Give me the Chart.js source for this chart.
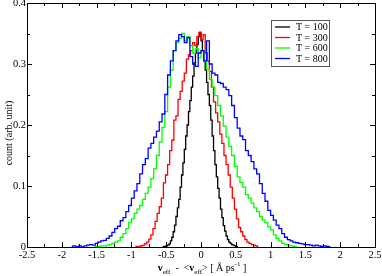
<!DOCTYPE html>
<html>
<head>
<meta charset="utf-8">
<script src="https://cdn.jsdelivr.net/npm/chart.js@4.4.0/dist/chart.umd.min.js"></script>
<style>
  html, body { margin: 0; padding: 0; background: #fff; }
  #wrap { width: 382px; height: 276px; }
</style>
</head>
<body>
<div id="wrap"><canvas id="histChart" width="382" height="276"></canvas></div>
<script>
// histogram bins: first bin centre + bin width, then the counts
var t100Start = -0.55, t100Width = 0.02;
var t100Counts = [0.000,0.001,0.001,0.002,0.003,0.005,0.010,0.016,0.025,0.036,0.050,0.064,0.078,0.098,0.118,0.138,0.160,0.182,0.200,0.222,0.240,0.262,0.280,0.302,0.318,0.332,0.345,0.352,0.338,0.322,0.305,0.290,0.270,0.250,0.232,0.208,0.182,0.158,0.135,0.115,0.096,0.080,0.062,0.048,0.035,0.026,0.018,0.012,0.008,0.006,0.004,0.003,0.002,0.001,0.000];

var t300Start = -0.945, t300Width = 0.03;
var t300Counts = [0.000,0.001,0.001,0.002,0.003,0.005,0.008,0.013,0.020,0.030,0.042,0.055,0.066,0.080,0.105,0.118,0.135,0.158,0.175,0.208,0.215,0.242,0.255,0.272,0.285,0.308,0.315,0.322,0.335,0.330,0.345,0.352,0.340,0.348,0.318,0.305,0.288,0.262,0.238,0.220,0.205,0.185,0.170,0.150,0.135,0.118,0.098,0.080,0.062,0.046,0.032,0.025,0.018,0.012,0.008,0.006,0.004,0.003,0.002,0.000];

var t600Start = -1.54, t600Width = 0.04;
var t600Counts = [0.000,0.001,0.001,0.002,0.002,0.003,0.004,0.006,0.008,0.010,0.016,0.022,0.030,0.040,0.046,0.055,0.062,0.068,0.078,0.088,0.098,0.112,0.128,0.150,0.172,0.196,0.222,0.262,0.290,0.322,0.335,0.342,0.350,0.338,0.345,0.330,0.318,0.325,0.310,0.322,0.305,0.292,0.275,0.262,0.248,0.232,0.215,0.198,0.180,0.165,0.150,0.132,0.115,0.106,0.098,0.086,0.080,0.072,0.064,0.058,0.050,0.044,0.040,0.033,0.028,0.020,0.014,0.010,0.006,0.004,0.003,0.002,0.001,0.000];

var t800Start = -1.86, t800Width = 0.04;
var t800Counts = [0.000,0.002,0.000,0.002,0.000,0.002,0.003,0.004,0.003,0.006,0.008,0.010,0.011,0.014,0.018,0.024,0.030,0.034,0.043,0.048,0.058,0.068,0.080,0.092,0.104,0.120,0.135,0.145,0.162,0.170,0.180,0.190,0.205,0.218,0.250,0.282,0.305,0.322,0.338,0.348,0.345,0.335,0.343,0.312,0.300,0.296,0.318,0.322,0.305,0.338,0.300,0.285,0.282,0.270,0.268,0.262,0.258,0.248,0.232,0.212,0.195,0.182,0.176,0.158,0.150,0.140,0.128,0.120,0.104,0.088,0.075,0.060,0.052,0.044,0.036,0.030,0.022,0.016,0.012,0.010,0.008,0.007,0.006,0.005,0.004,0.004,0.003,0.002,0.003,0.002,0.001,0.002,0.001,0.000];

var seriesNames = ['T = 100', 'T = 300', 'T = 600', 'T = 800'];
var seriesColors = ['#000000', '#ff0000', '#00ff00', '#0000ff'];
var xTicks = [-2.5, -2, -1.5, -1, -0.5, 0, 0.5, 1, 1.5, 2, 2.5];
var yTicks = [0, 0.1, 0.2, 0.3, 0.4];

function toPoints(start, width, counts) {
  var pts = [];
  for (var i = 0; i < counts.length; i++) {
    pts.push({ x: start + i * width, y: counts[i] });
  }
  return pts;
}

var serif = '"Liberation Serif", "DejaVu Serif", serif';

// axes, ticks, legend and titles drawn by hand (xmgrace look)
var gracePlugin = {
  id: 'grace',
  afterDraw: function(chart) {
    var ctx = chart.ctx, a = chart.chartArea;
    var xs = chart.scales.x, ys = chart.scales.y;
    ctx.save();
    ctx.strokeStyle = '#000';
    ctx.lineWidth = 1;
    ctx.strokeRect(Math.round(a.left) + 0.5, Math.round(a.top) + 0.5,
                   Math.round(a.right - a.left), Math.round(a.bottom - a.top));

    ctx.beginPath();
    for (var v = -2.5; v <= 2.5001; v += 0.25) {
      var px = Math.round(xs.getPixelForValue(v)) + 0.5;
      var len = (Math.abs(v * 2 - Math.round(v * 2)) < 1e-6) ? 5 : 3;
      ctx.moveTo(px, a.bottom); ctx.lineTo(px, a.bottom - len);
      ctx.moveTo(px, a.top); ctx.lineTo(px, a.top + len);
    }
    for (var w = 0; w <= 0.4001; w += 0.05) {
      var py = Math.round(ys.getPixelForValue(w)) + 0.5;
      var l2 = (Math.abs(w * 10 - Math.round(w * 10)) < 1e-6) ? 5 : 3;
      ctx.moveTo(a.left, py); ctx.lineTo(a.left + l2, py);
      ctx.moveTo(a.right, py); ctx.lineTo(a.right - l2, py);
    }
    ctx.stroke();

    ctx.fillStyle = '#000';
    ctx.font = '10.5px ' + serif;
    ctx.textAlign = 'center';
    ctx.textBaseline = 'top';
    xTicks.forEach(function(t) {
      ctx.fillText(String(t), xs.getPixelForValue(t), a.bottom + 3);
    });
    ctx.textAlign = 'right';
    ctx.textBaseline = 'middle';
    yTicks.forEach(function(t) {
      ctx.fillText(String(t), a.left - 1, ys.getPixelForValue(t));
    });

    // y title
    ctx.save();
    ctx.translate(9, (a.top + a.bottom) / 2 + 8);
    ctx.rotate(-Math.PI / 2);
    ctx.textAlign = 'center';
    ctx.font = '10px ' + serif;
    ctx.fillText('count (arb. unit)', 0, 0);
    ctx.restore();

    // x title with subscripts
    var parts = [
      { t: 'v', f: 'bold 10px ' + serif, dy: 0 },
      { t: 'eff', f: '7px ' + serif, dy: 3 },
      { t: '  -  <', f: '10px ' + serif, dy: 0 },
      { t: 'v', f: 'bold 10px ' + serif, dy: 0 },
      { t: 'eff', f: '7px ' + serif, dy: 3 },
      { t: '> [ \u00c5 ps', f: '10px ' + serif, dy: 0 },
      { t: '-1', f: '7px ' + serif, dy: -5 },
      { t: ' ]', f: '10px ' + serif, dy: 0 }
    ];
    var total = 0;
    parts.forEach(function(p) { ctx.font = p.f; p.w = ctx.measureText(p.t).width; total += p.w; });
    var cx = 202 - total / 2;
    ctx.textAlign = 'left';
    ctx.textBaseline = 'alphabetic';
    parts.forEach(function(p) {
      ctx.font = p.f;
      ctx.fillText(p.t, cx, 271 + p.dy);
      cx += p.w;
    });

    // legend box
    var bx = 271, by = 20, bw = 58, bh = 46;
    ctx.fillStyle = '#fff';
    ctx.fillRect(bx, by, bw, bh);
    ctx.strokeStyle = '#555';
    ctx.strokeRect(bx + 0.5, by + 0.5, bw, bh);
    ctx.font = '10px ' + serif;
    ctx.textBaseline = 'middle';
    for (var i = 0; i < seriesNames.length; i++) {
      var ry = by + 7 + i * 10.5;
      ctx.strokeStyle = seriesColors[i];
      ctx.lineWidth = 1.3;
      ctx.beginPath();
      ctx.moveTo(bx + 4, ry); ctx.lineTo(bx + 19, ry);
      ctx.stroke();
      ctx.fillStyle = '#000';
      ctx.fillText(seriesNames[i], bx + 25, ry + 0.5);
    }
    ctx.restore();
  }
};

var allCounts = [
  toPoints(t100Start, t100Width, t100Counts),
  toPoints(t300Start, t300Width, t300Counts),
  toPoints(t600Start, t600Width, t600Counts),
  toPoints(t800Start, t800Width, t800Counts)
];

var datasets = [];
for (var k = 0; k < 4; k++) {
  datasets.push({
    label: seriesNames[k],
    data: allCounts[k],
    borderColor: seriesColors[k],
    borderWidth: 1.3,
    stepped: 'middle',
    pointRadius: 0,
    fill: false,
    order: 3 - k
  });
}

var histChart = new Chart(document.getElementById('histChart'), {
  type: 'line',
  data: { datasets: datasets },
  options: {
    responsive: false,
    animation: false,
    layout: { padding: { left: 27, right: 7, top: 3, bottom: 29 } },
    plugins: { legend: { display: false }, tooltip: { enabled: false } },
    scales: {
      x: { type: 'linear', min: -2.5, max: 2.5, display: false },
      y: { type: 'linear', min: 0, max: 0.4, display: false }
    }
  },
  plugins: [gracePlugin]
});
</script>
</body>
</html>
